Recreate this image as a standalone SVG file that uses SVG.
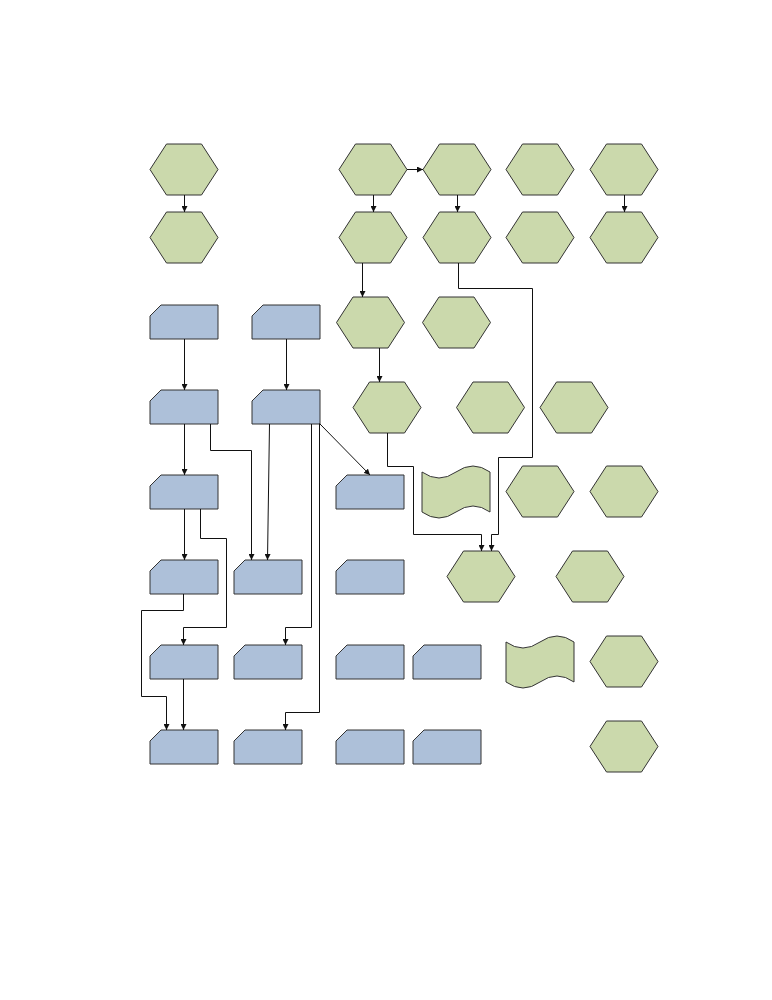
<svg xmlns="http://www.w3.org/2000/svg" width="772" height="1000" viewBox="0 0 772 1000">
<style>
.hex{fill:#cbd9ac;stroke:#333;stroke-width:1}
.card{fill:#adc0d9;stroke:#333;stroke-width:1}
.wave{fill:#cbd9ac;stroke:#333;stroke-width:1}
.conn path{fill:none;stroke:#111;stroke-width:1;marker-end:url(#ah)}
.conn path.na{marker-end:none}
</style>
<defs>
<marker id="ah" markerWidth="6" markerHeight="6" refX="6" refY="3" orient="auto" markerUnits="userSpaceOnUse"><path d="M0,0 L6,3 L0,6 Z" fill="#111"/></marker>
<path id="hx" d="M-34,0 L-17.5,-25.5 L17.5,-25.5 L34,0 L17.5,25.5 L-17.5,25.5 Z"/>
<path id="cd" d="M0,11 L11,0 L68,0 L68,34 L0,34 Z"/>
<path id="wv" d="M0,6 Q17,18 34,6 Q51,-6 68,6 L68,46 Q51,34 34,46 Q17,58 0,46 Z"/>
</defs>
<rect width="772" height="1000" fill="#fff"/>
<g id="h1"><use href="#hx" class="hex" x="184" y="169.5"/></g>
<g id="h2"><use href="#hx" class="hex" x="184" y="237.5"/></g>
<g id="h3"><use href="#hx" class="hex" x="373" y="169.5"/></g>
<g id="h4"><use href="#hx" class="hex" x="457" y="169.5"/></g>
<g id="h5"><use href="#hx" class="hex" x="540" y="169.5"/></g>
<g id="h6"><use href="#hx" class="hex" x="624" y="169.5"/></g>
<g id="h7"><use href="#hx" class="hex" x="373" y="237.5"/></g>
<g id="h8"><use href="#hx" class="hex" x="457" y="237.5"/></g>
<g id="h9"><use href="#hx" class="hex" x="540" y="237.5"/></g>
<g id="h10"><use href="#hx" class="hex" x="624" y="237.5"/></g>
<g id="h11"><use href="#hx" class="hex" x="370.5" y="322.5"/></g>
<g id="h12"><use href="#hx" class="hex" x="456.5" y="322.5"/></g>
<g id="h13"><use href="#hx" class="hex" x="387" y="407.5"/></g>
<g id="h14"><use href="#hx" class="hex" x="490.5" y="407.5"/></g>
<g id="h15"><use href="#hx" class="hex" x="574" y="407.5"/></g>
<g id="h16"><use href="#hx" class="hex" x="540" y="491.5"/></g>
<g id="h17"><use href="#hx" class="hex" x="624" y="491.5"/></g>
<g id="h18"><use href="#hx" class="hex" x="481" y="576.5"/></g>
<g id="h19"><use href="#hx" class="hex" x="590" y="576.5"/></g>
<g id="h20"><use href="#hx" class="hex" x="624" y="661.5"/></g>
<g id="h21"><use href="#hx" class="hex" x="624" y="746.5"/></g>
<g id="w1"><use href="#wv" class="wave" x="422" y="466"/></g>
<g id="w2"><use href="#wv" class="wave" x="506" y="636"/></g>
<g id="c1"><use href="#cd" class="card" x="150" y="305"/></g>
<g id="c2"><use href="#cd" class="card" x="252" y="305"/></g>
<g id="c3"><use href="#cd" class="card" x="150" y="390"/></g>
<g id="c4"><use href="#cd" class="card" x="252" y="390"/></g>
<g id="c5"><use href="#cd" class="card" x="150" y="475"/></g>
<g id="c6"><use href="#cd" class="card" x="336" y="475"/></g>
<g id="c7"><use href="#cd" class="card" x="150" y="560"/></g>
<g id="c8"><use href="#cd" class="card" x="234" y="560"/></g>
<g id="c9"><use href="#cd" class="card" x="336" y="560"/></g>
<g id="c10"><use href="#cd" class="card" x="150" y="645"/></g>
<g id="c11"><use href="#cd" class="card" x="234" y="645"/></g>
<g id="c12"><use href="#cd" class="card" x="336" y="645"/></g>
<g id="c13"><use href="#cd" class="card" x="413" y="645"/></g>
<g id="c14"><use href="#cd" class="card" x="150" y="730"/></g>
<g id="c15"><use href="#cd" class="card" x="234" y="730"/></g>
<g id="c16"><use href="#cd" class="card" x="336" y="730"/></g>
<g id="c17"><use href="#cd" class="card" x="413" y="730"/></g>
<g id="connectors" class="conn">
<path d="M184.5,195 V212"/>
<path d="M407,169.5 H423"/>
<path d="M373.5,195 V212"/>
<path d="M457.5,195 V212"/>
<path d="M624.5,195 V212"/>
<path d="M362.5,263 V297"/>
<path d="M458.5,263 V288.5 H532.5 V457.5 H498.5 V534.5 H491.5 V551"/>
<path d="M379.5,348 V382"/>
<path d="M387.5,433 V466.5 H413.5 V534.5 H481.5 V551"/>
<path d="M184.5,339 V390"/>
<path d="M286.5,339 V390"/>
<path d="M184.5,424 V475"/>
<path d="M210.5,424 V450.5 H251.5 V560"/>
<path d="M269.5,424 L267.5,560"/>
<path d="M319.5,423.5 L370,475"/>
<path d="M311.5,424 V627.5 H285.5 V645"/>
<path d="M319.5,424 V712.5 H285.5 V730"/>
<path d="M184.5,509 V560"/>
<path d="M200.5,509 V538.5 H226.5 V627.5 H183.5 V645"/>
<path d="M183.5,594 V610.5 H141.5 V696.5 H166.5 V730"/>
<path d="M183.5,679 V730"/>
</g>
</svg>
